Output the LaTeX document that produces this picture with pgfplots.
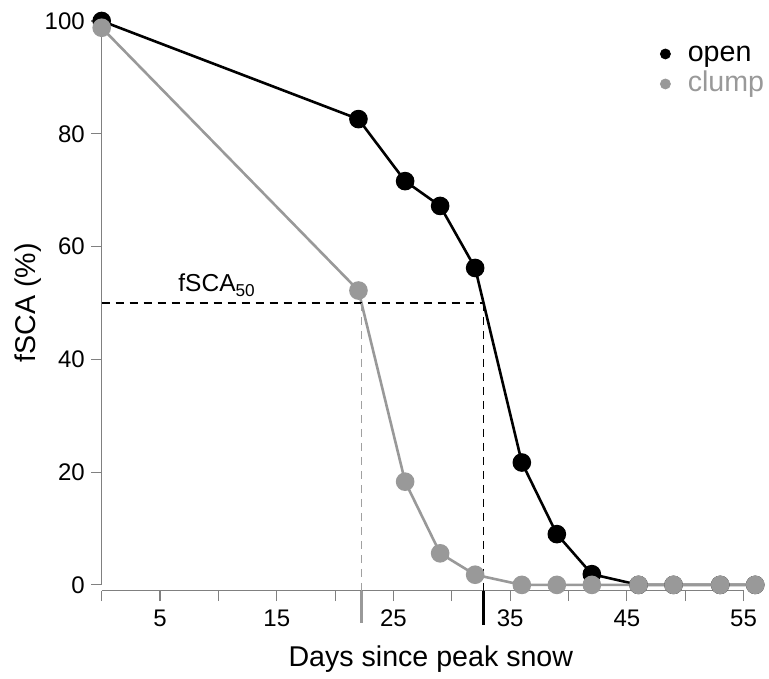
\documentclass[border=0pt]{standalone}
\usepackage{fontspec}
\setmainfont{Liberation Sans}
\usepackage{pgfplots}
\pgfplotsset{compat=1.18}
\definecolor{ptgray}{RGB}{153,153,153}
\definecolor{axgray}{RGB}{128,128,128}
\definecolor{dashgray}{RGB}{160,160,160}
\begin{document}
\begin{tikzpicture}
\begin{axis}[
  scale only axis, width=326.8pt, height=284.8pt,
  xmin=0, xmax=56, ymin=-1, ymax=100,
  axis x line*=bottom, axis y line*=left,
  axis line style={draw=none},
  clip=false,
  xtick={0,5,...,55}, xticklabels={,5,,15,,25,,35,,45,,55},
  ytick={0,20,...,100},
  tick align=outside, major tick length=5.3pt,
  tick style={axgray, line width=0.6pt},
  /pgf/number format/assume math mode=true,
  ticklabel style={font=\fontsize{12}{14}\selectfont, inner sep=0pt},
  yticklabel style={anchor=east, xshift=-3pt},
  xticklabel style={anchor=north, yshift=-4.35pt},
  legend style={draw=none, fill=none, inner sep=0pt, outer sep=0pt,
    at={(axis description cs:0.8543,0.9649)}, anchor=north west,
    row sep=1.5pt, column sep=8.5pt,
    nodes={inner sep=0pt, text height=10.5pt, text depth=3pt},
    cells={anchor=base west},
    font=\fontsize{14.3}{17}\selectfont},
  legend image code/.code={\fill[#1] (2.5pt,4pt) circle[radius=2.5pt];},
]
% axis lines (R style, detached)
\draw[axgray, line width=0.6pt] (axis cs:0,0) -- (axis cs:0,100);
\draw[axgray, line width=0.6pt] (axis cs:0,-1) -- (axis cs:55,-1);

% open
\addplot[black, line width=1.3pt, mark=*, mark size=4pt, mark options={solid, fill=black}, forget plot]
  coordinates {(0,100) (22,82.6) (26,71.6) (29,67.2) (32,56.2) (36,21.7) (39,9.0) (42,1.9) (46,0) (49,0) (53,0) (56,0)};
% clump
\addplot[ptgray, line width=1.3pt, mark=*, mark size=4pt, mark options={solid, fill=ptgray}, forget plot]
  coordinates {(0,98.8) (22,52.2) (26,18.3) (29,5.6) (32,1.8) (36,0) (39,0) (42,0) (46,0) (49,0) (53,0) (56,0)};

% fSCA50 guides
\addplot[black, line width=0.8pt, dash pattern=on 4pt off 3pt, forget plot] coordinates {(0,50) (32.7,50)};
\addplot[black, line width=0.8pt, dash pattern=on 4pt off 3pt, forget plot] coordinates {(32.7,50) (32.7,-1)};
\addplot[dashgray, line width=0.8pt, dash pattern=on 4pt off 3pt, forget plot] coordinates {(22.26,50) (22.26,-1)};
\addplot[black, line width=1.6pt, forget plot] coordinates {(32.7,-1) (32.7,-7.2)};
\addplot[ptgray, line width=1.6pt, forget plot] coordinates {(22.26,-1) (22.26,-6.8)};

\addlegendimage{black}
\addlegendentry{open}
\addlegendimage{ptgray}
\addlegendentry{\textcolor{ptgray}{clump}}

\node[anchor=base west, inner sep=0pt, font=\fontsize{12.25}{14}\selectfont] at (axis cs:6.54,52.0)
  {fSCA\raisebox{-2.2pt}{\fontsize{8.6}{10}\selectfont 50}};
\node[rotate=90, inner sep=0pt, font=\fontsize{14.3}{17}\selectfont] at (axis cs:-6.29,50) {fSCA (\%)};
\node[anchor=base, inner sep=0pt, font=\fontsize{14.3}{17}\selectfont] at (axis cs:28.2,-14.4) {Days since peak snow};

\coordinate (bbll) at (axis cs:-8.715,-16.67);
\coordinate (bbur) at (axis cs:57.18,103.72);
\end{axis}
\pgfresetboundingbox
\path[use as bounding box] (bbll) rectangle (bbur);
\end{tikzpicture}
\end{document}
